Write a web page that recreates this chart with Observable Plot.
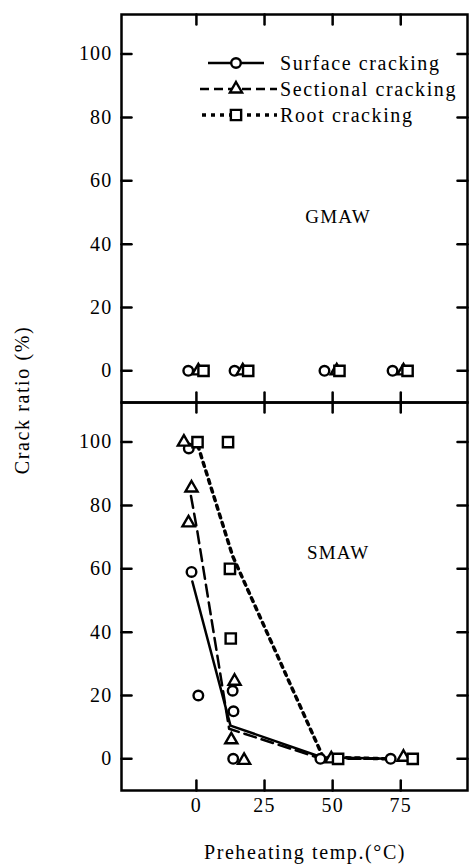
<!DOCTYPE html>
<html><head><meta charset="utf-8">
<script src="https://cdn.jsdelivr.net/npm/d3@7"></script>
<script src="https://cdn.jsdelivr.net/npm/@observablehq/plot@0.6"></script>
<style>
html,body{margin:0;padding:0;background:#fff;}
#wrap{position:relative;width:472px;height:866px;font-family:"Liberation Serif","Times New Roman",Times,serif;color:#000;}
#wrap svg{display:block}
#wrap svg text{font-family:"Liberation Serif","Times New Roman",Times,serif !important;}
.lab{position:absolute;font-size:20px;letter-spacing:1.6px;white-space:nowrap;line-height:1;}
</style></head><body><div id="wrap"></div>
<script>
// ---- data ----
const panels = ["GMAW", "SMAW"];
const seriesNames = ["Surface cracking", "Sectional cracking", "Root cracking"];
const xTicks = [0, 25, 50, 75];
const yTicks = [0, 20, 40, 60, 80, 100];
const xDomain = [-27.5, 99.5];
const yDomain = [-10, 112.5];

// GMAW (all zero)
const gmawSurfaceX = [-3, 14, 47, 72];
const gmawSurfaceY = [0, 0, 0, 0];
const gmawSectionalX = [0.7, 17, 51.5, 76];
const gmawSectionalY = [0, 0, 0, 0];
const gmawRootX = [2.6, 19, 52.5, 77.5];
const gmawRootY = [0, 0, 0, 0];

// SMAW measured points
const smawSurfaceX = [-2.8, -1.8, 0.7, 13.3, 13.6, 13.5, 45.5, 71.3];
const smawSurfaceY = [98, 59, 20, 21.5, 15, 0, 0, 0];
const smawSectionalX = [-4.6, -1.8, -2.9, 14, 12.8, 17.5, 49.5, 76];
const smawSectionalY = [100, 85.5, 74.5, 24.5, 6, -0.5, 0, 0.5];
const smawRootX = [0.4, 11.6, 12.3, 12.6, 52, 79.4];
const smawRootY = [100, 100, 60, 38, 0, 0];

// SMAW trend lines
const lineSurfaceX = [-1.5, 12.5, 46, 71];
const lineSurfaceY = [56, 10.5, 0.5, 0];
const lineSectionalX = [-2, 0.3, 12, 46, 71];
const lineSectionalY = [83, 72, 9.5, 0, 0];
const lineRootX = [0.5, 13.3, 46.5, 71];
const lineRootY = [99, 64, 0.5, 0];

const panelLabelX = [52, 52];
const panelLabelY = [48.6, 65];

// ---- tables ----
const rows = (panel, xs, ys) => xs.map((x, i) => ({panel, x, y: ys[i]}));
const W = 472, H = 866;
const ink = "#000";
const FONT = "'Liberation Serif', 'Times New Roman', Times, serif";
const tickShape = {draw(ctx, l) { ctx.moveTo(0, 0); ctx.lineTo(0, -l); }};
const tk = {stroke: ink, strokeWidth: 2.5, length: 10, shape: tickShape, anchor: "start"};
const dotStyle = {fill: "#fff", stroke: ink, strokeWidth: 2.4};

const pts = [
  {data: [...rows("GMAW", gmawSurfaceX, gmawSurfaceY), ...rows("SMAW", smawSurfaceX, smawSurfaceY)], symbol: "circle", r: 4.8},
  {data: [...rows("GMAW", gmawSectionalX, gmawSectionalY), ...rows("SMAW", smawSectionalX, smawSectionalY)], symbol: "triangle", r: 4.5},
  {data: [...rows("GMAW", gmawRootX, gmawRootY), ...rows("SMAW", smawRootX, smawRootY)], symbol: "square", r: 5.8}
];

const plot = Plot.plot({
  width: W, height: H,
  marginLeft: 121, marginRight: 5, marginTop: 13, marginBottom: 76,
  style: {fontFamily: FONT, fontSize: "20px", color: ink, background: "#fff"},
  x: {domain: xDomain},
  y: {domain: yDomain},
  fy: {domain: panels, padding: 0, axis: null, label: null},
  marks: [
    Plot.line(rows("SMAW", lineRootX, lineRootY), {x: "x", y: "y", fy: "panel", stroke: ink, strokeWidth: 3.5, strokeDasharray: "4,5"}),
    Plot.line(rows("SMAW", lineSectionalX, lineSectionalY), {x: "x", y: "y", fy: "panel", stroke: ink, strokeWidth: 2.5, strokeDasharray: "12,6"}),
    Plot.line(rows("SMAW", lineSurfaceX, lineSurfaceY), {x: "x", y: "y", fy: "panel", stroke: ink, strokeWidth: 2.5}),
    ...pts.map(p => Plot.dot(p.data, {x: "x", y: "y", fy: "panel", symbol: () => p.symbol, r: p.r, ...dotStyle})),
    Plot.text(panels.map((p, i) => ({panel: p, x: panelLabelX[i], y: panelLabelY[i]})), {x: "x", y: "y", fy: "panel", text: "panel", fontSize: 19, fill: ink}),
    Plot.frame({stroke: ink, strokeWidth: 2.5}),
    Plot.vector(yTicks, {y: d => d, frameAnchor: "left", rotate: 90, ...tk}),
    Plot.vector(yTicks, {y: d => d, frameAnchor: "right", rotate: -90, ...tk}),
    Plot.vector(xTicks, {x: d => d, frameAnchor: "top", rotate: 180, ...tk}),
    Plot.vector(xTicks, {x: d => d, frameAnchor: "bottom", rotate: 0, ...tk}),
    Plot.axisY({ticks: yTicks, tickSize: 0, tickPadding: 9, label: null, fontSize: 20, fill: ink}),
    Plot.axisX({ticks: xTicks, tickSize: 0, tickPadding: 7, label: null, fontSize: 20, fill: ink})
  ]
});
d3.select(plot).attr("font-family", FONT).selectAll("text").style("letter-spacing", "1.2px");

const wrap = document.getElementById("wrap");
wrap.appendChild(plot);

// legend overlay
const leg = d3.create("svg").attr("width", W).attr("height", 140)
  .style("position", "absolute").style("left", "0px").style("top", "0px")
  .attr("font-family", FONT);
const legRows = [
  {name: seriesNames[0], y: 63, x1: 208, x2: 264, dash: null, w: 2.5, sym: d3.symbolCircle, r: 4.8},
  {name: seriesNames[1], y: 89, x1: 200, x2: 277, dash: "9,5", w: 2.5, sym: d3.symbolTriangle, r: 4.5},
  {name: seriesNames[2], y: 115, x1: 202, x2: 277, dash: "4,5", w: 3.5, sym: d3.symbolSquare, r: 5.8}
];
legRows.forEach(d => {
  leg.append("line").attr("x1", d.x1).attr("x2", d.x2).attr("y1", d.y).attr("y2", d.y)
    .attr("stroke", ink).attr("stroke-width", d.w).attr("stroke-dasharray", d.dash);
  leg.append("path").attr("d", d3.symbol(d.sym, Math.PI * d.r * d.r)())
    .attr("transform", `translate(236,${d.y})`).attr("fill", "#fff").attr("stroke", ink).attr("stroke-width", 2.4);
  leg.append("text").attr("x", 280).attr("y", d.y + 7).attr("font-size", 20)
    .style("letter-spacing", "1.6px").attr("fill", ink).text(d.name);
});
wrap.appendChild(leg.node());

// axis titles
const yl = document.createElement("div");
yl.className = "lab";
yl.textContent = "Crack ratio (%)";
yl.style.left = "22px"; yl.style.top = "400px";
yl.style.transform = "translate(-50%,-50%) rotate(-90deg)";
wrap.appendChild(yl);
const xl = document.createElement("div");
xl.className = "lab";
xl.textContent = "Preheating temp.(\u00B0C)";
xl.style.left = "305px"; xl.style.top = "852px";
xl.style.transform = "translate(-50%,-50%)";
wrap.appendChild(xl);
</script></body></html>
